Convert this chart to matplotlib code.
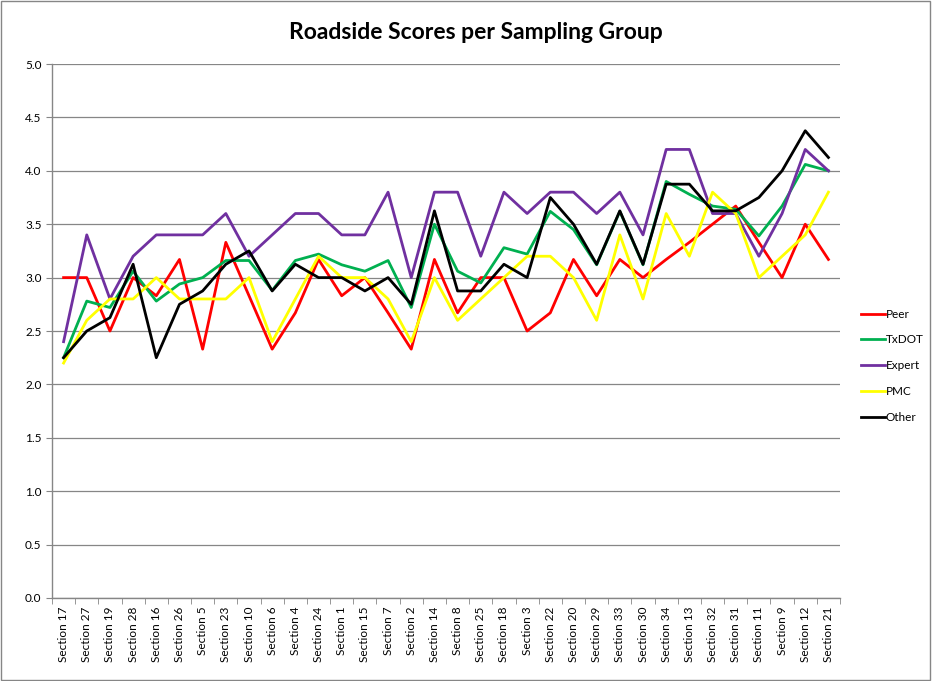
import matplotlib
matplotlib.use("Agg")
from matplotlib import pyplot as plt
from matplotlib.patches import Rectangle
from matplotlib.ticker import FixedLocator

plt.rcParams['font.family'] = ['Lato', 'DejaVu Sans']

sections = ["Section 17", "Section 27", "Section 19", "Section 28", "Section 16", "Section 26",
            "Section 5", "Section 23", "Section 10", "Section 6", "Section 4", "Section 24",
            "Section 1", "Section 15", "Section 7", "Section 2", "Section 14", "Section 8",
            "Section 25", "Section 18", "Section 3", "Section 22", "Section 20", "Section 29",
            "Section 33", "Section 30", "Section 34", "Section 13", "Section 32", "Section 31",
            "Section 11", "Section 9", "Section 12", "Section 21"]

peer = [3.0, 3.0, 2.5, 3.0, 2.83, 3.17, 2.33, 3.33, 2.83, 2.33, 2.67, 3.17,
        2.83, 3.0, 2.67, 2.33, 3.17, 2.67, 3.0, 3.0, 2.5, 2.67, 3.17, 2.83,
        3.17, 3.0, 3.17, 3.33, 3.5, 3.67, 3.33, 3.0, 3.5, 3.17]
txdot = [2.25, 2.78, 2.72, 3.06, 2.78, 2.94, 3.0, 3.16, 3.16, 2.88, 3.16, 3.22,
         3.12, 3.06, 3.16, 2.72, 3.5, 3.06, 2.95, 3.28, 3.22, 3.62, 3.45, 3.12,
         3.62, 3.12, 3.9, 3.78, 3.67, 3.64, 3.39, 3.67, 4.06, 4.0]
expert = [2.4, 3.4, 2.8, 3.2, 3.4, 3.4, 3.4, 3.6, 3.2, 3.4, 3.6, 3.6,
          3.4, 3.4, 3.8, 3.0, 3.8, 3.8, 3.2, 3.8, 3.6, 3.8, 3.8, 3.6,
          3.8, 3.4, 4.2, 4.2, 3.6, 3.6, 3.2, 3.6, 4.2, 4.0]
pmc = [2.2, 2.6, 2.8, 2.8, 3.0, 2.8, 2.8, 2.8, 3.0, 2.4, 2.8, 3.2,
       3.0, 3.0, 2.8, 2.4, 3.0, 2.6, 2.8, 3.0, 3.2, 3.2, 3.0, 2.6,
       3.4, 2.8, 3.6, 3.2, 3.8, 3.6, 3.0, 3.2, 3.4, 3.8]
other = [2.25, 2.5, 2.625, 3.125, 2.25, 2.75, 2.875, 3.125, 3.25, 2.875, 3.125, 3.0,
         3.0, 2.875, 3.0, 2.75, 3.625, 2.875, 2.875, 3.125, 3.0, 3.75, 3.5, 3.125,
         3.625, 3.125, 3.875, 3.875, 3.625, 3.625, 3.75, 4.0, 4.375, 4.125]

series = [("Peer", peer, "#FF0000"),
          ("TxDOT", txdot, "#00B050"),
          ("Expert", expert, "#7030A0"),
          ("PMC", pmc, "#FFFF00"),
          ("Other", other, "#000000")]

fig = plt.figure(figsize=(9.32, 6.81), dpi=100)
ax = fig.add_axes([0.0558, 0.1219, 0.8455, 0.7841])

x = list(range(1, len(sections) + 1))
for name, vals, col in series:
    ax.plot(x, vals, color=col, linewidth=2.0, label=name)

ax.set_xlim(0.5, len(sections) + 0.5)
ax.set_ylim(0, 5)
ax.set_yticks([i * 0.5 for i in range(11)])
ax.set_yticklabels(["%.1f" % (i * 0.5) for i in range(11)], fontsize=8.5)
ax.set_xticks(x)
ax.set_xticklabels(sections, rotation=90, fontsize=8.5)
ax.tick_params(axis='x', which='major', length=0, pad=6)
ax.xaxis.set_minor_locator(FixedLocator([i + 0.5 for i in range(len(sections) + 1)]))
ax.tick_params(axis='x', which='minor', length=4, color='#868686', direction='out')
ax.tick_params(axis='y', length=4, color='#868686', direction='out')

ax.grid(axis='y', color='#868686', linewidth=0.9)
ax.set_axisbelow(True)
for s in ['top', 'right']:
    ax.spines[s].set_visible(False)
for s in ['left', 'bottom']:
    ax.spines[s].set_color('#868686')
    ax.spines[s].set_linewidth(1.0)

fig.text(0.511, 0.952, "Roadside Scores per Sampling Group", ha='center', va='center',
         fontsize=16.5, fontweight='bold')

fig.legend(loc='center left', bbox_to_anchor=(0.924, 0.463), frameon=False,
           fontsize=8.5, handlelength=2.0, handletextpad=0.1, labelspacing=1.25,
           borderpad=0, borderaxespad=0)

fig.patches.append(Rectangle((0.001, 0.001), 0.997, 0.997, transform=fig.transFigure,
                             fill=False, edgecolor='#868686', linewidth=1.0))

fig.savefig("out.png", dpi=100)
